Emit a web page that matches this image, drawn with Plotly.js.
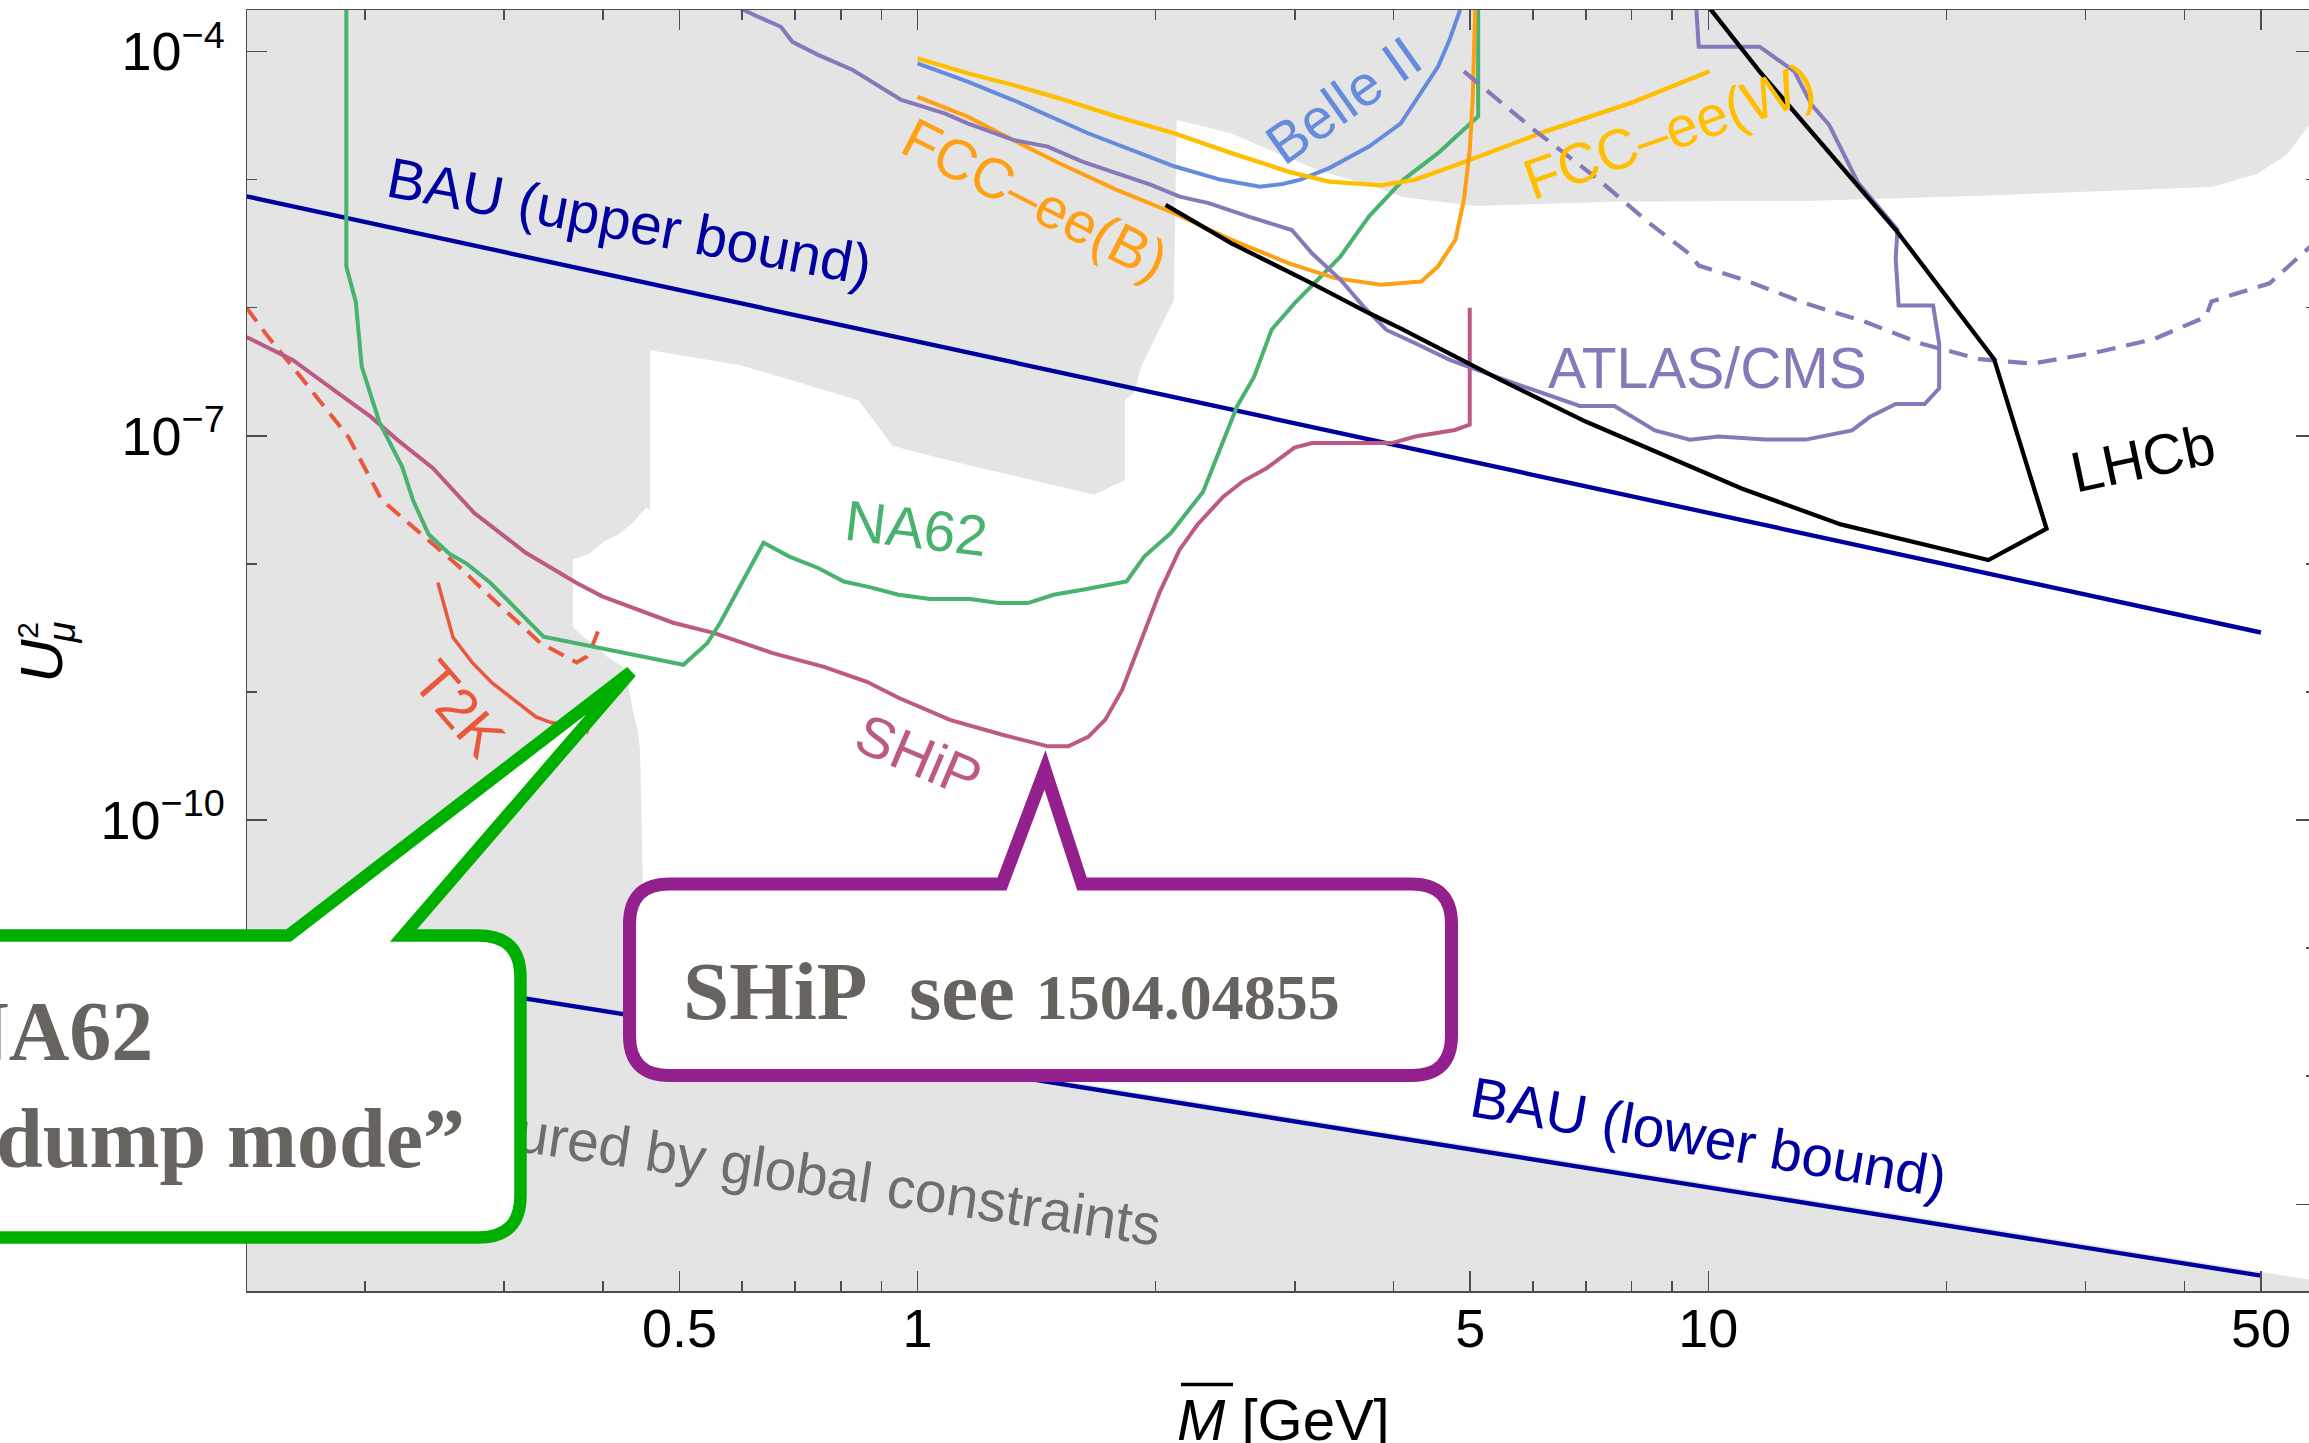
<!DOCTYPE html>
<html><head><meta charset="utf-8">
<script src="https://cdn.plot.ly/plotly-3.0.1.min.js"></script>
<style>html,body{margin:0;padding:0;overflow:hidden;background:#fff}#chart{width:2316px;height:1443px}</style>
</head><body><div id="chart"></div>
<script>
// ---------- axis ticks ----------
const xMajor = [0.5, 1, 5, 10, 50];
const xMajorText = ['0.5', '1', '5', '10', '50'];
const xMinor = [0.2, 0.3, 0.4, 0.6, 0.7, 0.8, 0.9, 2, 3, 4, 6, 7, 8, 9, 20, 30, 40];
const yMajor = [1e-13, 1e-10, 1e-7, 1e-4];
const yMajorText = ['10<sup>−13</sup>', '10<sup>−10</sup>', '10<sup>−7</sup>', '10<sup>−4</sup>'];
const yMinor = [1e-12, 1e-11, 1e-9, 1e-8, 1e-6, 1e-5];

// ---------- region allowed by global constraints (white hole in grey) ----------
const allowedM = [0.459, 0.597, 0.842, 0.930, 1.080, 1.673, 1.830, 1.830, 1.878, 1.919, 2.012, 2.109, 2.127, 2.493, 2.716, 3.210, 3.795, 4.117, 5.080, 7.731, 13.28, 22.11, 43.35, 49.5, 53.93, 57.5, 70, 70, 0.452, 0.4494, 0.4457, 0.4426, 0.4370, 0.4329, 0.4288, 0.4241, 0.4046, 0.3927, 0.3778, 0.3666, 0.3666, 0.3844, 0.4012, 0.4188, 0.437, 0.4534, 0.459, 0.459];
const allowedU = [4.65e-7, 3.56e-7, 1.89e-7, 8.32e-8, 6.55e-8, 3.47e-8, 4.52e-8, 1.89e-7, 2.15e-7, 3.47e-7, 6.38e-7, 1.14e-6, 2.92e-5, 2.30e-5, 1.82e-5, 1.19e-5, 8.77e-6, 7.28e-6, 6.21e-6, 6.73e-6, 6.81e-6, 7.48e-6, 8.77e-6, 1.11e-5, 1.57e-5, 2.66e-5, 2.66e-5, 2.13e-14, 3.07e-12, 3.21e-11, 3.56e-10, 5.02e-10, 6.90e-10, 9.25e-10, 1.31e-9, 1.57e-9, 1.89e-9, 2.27e-9, 2.69e-9, 3.21e-9, 1.08e-8, 1.20e-8, 1.49e-8, 1.70e-8, 2.10e-8, 2.74e-8, 2.66e-8, 4.65e-7];

// ---------- BAU bounds ----------
const bauM = [0.1, 50];
const bauUpperU = [1.18e-5, 2.91e-9];
const bauLowerU = [1.27e-11, 2.77e-14];

// ---------- experiments ----------
const na62M = [0.1895, 0.1895, 0.1948, 0.1982, 0.2087, 0.2229, 0.2302, 0.2408, 0.2557, 0.2693, 0.2884, 0.3365, 0.5058, 0.5417, 0.5629, 0.5927, 0.6387, 0.6886, 0.7486, 0.807, 0.872, 0.946, 1.037, 1.166, 1.266, 1.379, 1.486, 1.617, 1.838, 1.935, 2.091, 2.297, 2.414, 2.536, 2.664, 2.804, 2.997, 3.206, 3.423, 3.724, 4.117, 4.553, 5.117, 5.117];
const na62U = [3e-4, 2.10e-6, 1.11e-6, 3.47e-7, 1.27e-7, 5.74e-8, 3.12e-8, 1.70e-8, 1.20e-8, 1.0e-8, 7.09e-9, 2.70e-9, 1.63e-9, 2.39e-9, 3.47e-9, 6.28e-9, 1.46e-8, 1.14e-8, 9.29e-9, 7.28e-9, 6.55e-9, 5.74e-9, 5.32e-9, 5.32e-9, 4.94e-9, 4.94e-9, 5.74e-9, 6.28e-9, 7.28e-9, 1.14e-8, 1.74e-8, 3.66e-8, 7.76e-8, 1.70e-7, 2.88e-7, 6.73e-7, 1.08e-6, 1.65e-6, 2.49e-6, 5.16e-6, 1.0e-5, 1.61e-5, 3.12e-5, 3e-4];

const shipM = [0.1417, 0.1621, 0.1882, 0.2034, 0.2199, 0.2439, 0.2751, 0.3196, 0.3706, 0.3992, 0.4908, 0.5534, 0.6542, 0.7615, 0.863, 0.946, 1.099, 1.277, 1.462, 1.551, 1.644, 1.727, 1.815, 1.925, 2.025, 2.145, 2.259, 2.434, 2.579, 2.763, 2.997, 3.156, 3.978, 4.261, 4.783, 4.993, 4.993];
const shipU = [5.91e-7, 3.91e-7, 1.99e-7, 1.41e-7, 9.29e-8, 5.58e-8, 2.49e-8, 1.22e-8, 7.10e-9, 5.58e-9, 3.47e-9, 2.88e-9, 2.02e-9, 1.57e-9, 1.20e-9, 9.0e-10, 6.05e-10, 4.65e-10, 3.76e-10, 3.76e-10, 4.46e-10, 6.05e-10, 1.04e-9, 2.70e-9, 6.05e-9, 1.29e-8, 2.02e-8, 3.33e-8, 4.41e-8, 5.58e-8, 8.09e-8, 8.77e-8, 8.77e-8, 9.86e-8, 1.11e-7, 1.22e-7, 1.0e-6];

const t2kM = [0.2474, 0.2586, 0.2733, 0.290, 0.3292, 0.3439, 0.3729, 0.3819, 0.386];
const t2kU = [7.15e-9, 2.66e-9, 1.70e-9, 1.17e-9, 6.38e-10, 5.77e-10, 5.37e-10, 4.90e-10, 6.05e-10];

const t2kDashM = [0.1417, 0.151, 0.1631, 0.1762, 0.1907, 0.2100, 0.2373, 0.2633, 0.2878, 0.3332, 0.3706, 0.3819, 0.3877, 0.3943];
const t2kDashU = [1.0e-6, 5.89e-7, 3.29e-7, 1.79e-7, 9.75e-8, 3.16e-8, 1.64e-8, 9.48e-9, 5.58e-9, 2.42e-9, 1.70e-9, 1.89e-9, 2.27e-9, 2.96e-9];

const belleM = [1.0, 1.157, 1.321, 1.511, 1.643, 1.910, 2.111, 2.414, 2.711, 2.896, 3.050, 3.316, 3.724, 4.085, 4.334, 4.553, 4.710, 4.853, 4.904];
const belleU = [8.09e-5, 5.81e-5, 4.18e-5, 2.92e-5, 2.30e-5, 1.61e-5, 1.27e-5, 1.0e-5, 8.81e-6, 9.25e-6, 1.0e-5, 1.23e-5, 1.81e-5, 2.75e-5, 4.72e-5, 7.62e-5, 1.24e-4, 2.11e-4, 2.52e-4];

const fccWM = [1.0, 1.157, 1.321, 1.511, 1.786, 2.111, 2.495, 2.950, 3.316, 3.853, 4.261, 4.866, 6.214, 8.004, 10.04];
const fccWU = [8.85e-5, 6.76e-5, 5.48e-5, 4.31e-5, 3.10e-5, 2.30e-5, 1.61e-5, 1.15e-5, 9.64e-6, 9.0e-6, 1.0e-5, 1.34e-5, 2.37e-5, 3.99e-5, 7.0e-5];

const fccBM = [1.0, 1.157, 1.321, 1.511, 1.786, 2.111, 2.495, 2.950, 3.373, 3.853, 4.334, 4.553, 4.788, 4.909, 4.993, 5.036, 5.080];
const fccBU = [4.43e-5, 3.10e-5, 2.04e-5, 1.34e-5, 8.32e-6, 5.46e-6, 3.38e-6, 2.22e-6, 1.70e-6, 1.51e-6, 1.60e-6, 2.10e-6, 3.38e-6, 6.93e-6, 1.70e-5, 4.19e-5, 3e-4];

const atlasM = [0.585, 0.5975, 0.628, 0.6717, 0.6946, 0.7486, 0.828, 0.954, 1.082, 1.157, 1.321, 1.461, 1.616, 1.786, 1.974, 2.146, 2.334, 2.624, 2.974, 3.154, 3.428, 3.665, 3.918, 4.261, 4.710, 5.712, 6.878, 7.61, 8.56, 9.48, 10.31, 11.80, 13.28, 15.20, 16.00, 17.26, 18.78, 19.59, 19.59, 19.25, 17.41, 17.26, 17.35, 15.47, 14.96, 14.22, 13.51, 12.85, 11.61, 9.726, 9.643];
const atlasU = [2.52e-4, 2.17e-4, 1.87e-4, 1.56e-4, 1.19e-4, 9.41e-5, 7.18e-5, 4.19e-5, 3.29e-5, 2.75e-5, 2.04e-5, 1.81e-5, 1.38e-5, 1.12e-5, 9.10e-6, 7.36e-6, 6.55e-6, 5.13e-6, 4.04e-6, 2.66e-6, 1.65e-6, 1.02e-6, 6.70e-7, 5.28e-7, 3.91e-7, 2.54e-7, 1.71e-7, 1.71e-7, 1.10e-7, 9.33e-8, 9.86e-8, 9.33e-8, 9.33e-8, 1.10e-7, 1.40e-7, 1.77e-7, 1.77e-7, 2.35e-7, 5.23e-7, 1.04e-6, 1.04e-6, 2.41e-6, 4.06e-6, 9.42e-6, 1.41e-5, 2.67e-5, 3.84e-5, 7.0e-5, 1.09e-4, 1.09e-4, 2.52e-4];

const atlasDashM = [4.909, 6.008, 7.234, 8.424, 9.48, 9.726, 11.22, 13.28, 15.73, 18.62, 22.05, 25.67, 30.90, 36.59, 42.58, 43.30, 51.28, 57.52, 60];
const atlasDashU = [7.0e-5, 2.47e-5, 1.02e-5, 4.57e-6, 2.61e-6, 2.13e-6, 1.61e-6, 1.08e-6, 7.82e-7, 5.23e-7, 3.96e-7, 3.66e-7, 4.46e-7, 5.68e-7, 8.47e-7, 1.12e-6, 1.55e-6, 2.94e-6, 3.5e-6];

const lhcbM = [2.059, 2.495, 3.152, 3.727, 4.076, 5.454, 6.997, 11.04, 14.71, 22.61, 26.78, 22.99, 17.26, 11.61, 10.06, 9.91];
const lhcbU = [6.34e-6, 3.18e-6, 1.55e-6, 9.04e-7, 6.93e-7, 2.74e-7, 1.29e-7, 3.86e-8, 2.03e-8, 1.07e-8, 1.88e-8, 3.96e-7, 4.06e-6, 7.0e-5, 2.15e-4, 2.52e-4];

// ---------- curve labels ----------
const labelText = ['BAU (upper bound)', 'FCC–ee(B)', 'Belle II', 'FCC–ee(W)', 'ATLAS/CMS', 'LHCb', 'NA62', 'SHiP', 'T2K', 'BAU (lower bound)'];
const labelM = [0.4325, 1.409, 3.453, 8.907, 9.97, 35.5, 0.997, 1.0056, 0.2636, 10.01];
const labelU = [4.76e-6, 7.03e-6, 4.21e-5, 2.41e-5, 3.38e-7, 6.73e-8, 1.92e-8, 3.17e-10, 7.40e-10, 3.36e-13];
const labelAngle = [10.5, 27, -35.4, -19.5, 0, -12, 6.8, 23, 49.2, 9.8];

// ---------- styles ----------
const C = {
  bau: '#0000a0', na62: '#48b26e', ship: '#bd5a83', t2k: '#eb573c', belle: '#658cdc',
  fccW: '#ffbe00', fccB: '#ffa014', atlas: '#8778b9', lhcb: '#000000', grey: '#e4e4e4'
};
const labelColor = [C.bau, C.fccB, C.belle, C.fccW, C.atlas, C.lhcb, C.na62, C.ship, C.t2k, C.bau];
const SANS = 'Liberation Sans, Arial, Helvetica, sans-serif';
const SERIF = 'Liberation Serif, Times New Roman, serif';
const AX = '#4d4d4d';

function line(x, y, color, width, dash) {
  return {type: 'scatter', mode: 'lines', x: x, y: y, hoverinfo: 'skip',
          line: {color: color, width: width, dash: dash || 'solid'}};
}

const traces = [
  {type: 'scatter', mode: 'lines', x: allowedM, y: allowedU, fill: 'toself', fillcolor: '#ffffff',
   line: {width: 0, color: 'rgba(0,0,0,0)'}, hoverinfo: 'skip'},
  line(bauM, bauUpperU, C.bau, 4.4),
  line(bauM, bauLowerU, C.bau, 4.4),
  line(t2kDashM, t2kDashU, C.t2k, 4, '17px,10px'),
  line(t2kM, t2kU, C.t2k, 3.5),
  line(shipM, shipU, C.ship, 4),
  line(na62M, na62U, C.na62, 4),
  line(belleM, belleU, C.belle, 4),
  line(fccWM, fccWU, C.fccW, 4.3),
  line(fccBM, fccBU, C.fccB, 4),
  line(atlasDashM, atlasDashU, C.atlas, 4.2, '19px,11px'),
  line(atlasM, atlasU, C.atlas, 4),
  line(lhcbM, lhcbU, C.lhcb, 4.3)
];

// ---------- geometry helpers (pixel -> paper) ----------
const W = 2316, H = 1443, L = 247, T = 10, B = 152;
const PW = W - L, PH = H - T - B;
const px = X => (X - L) / PW;
const py = Y => (H - B - Y) / PH;
const P = (X, Y) => px(X).toFixed(5) + ',' + py(Y).toFixed(5);

const shipPath = 'M ' + P(669.5, 884) + ' L ' + P(1002, 884) + ' L ' + P(1045, 770) + ' L ' + P(1082, 884) +
  ' L ' + P(1411.5, 884) + ' Q ' + P(1451.5, 884) + ' ' + P(1451.5, 924) + ' L ' + P(1451.5, 1035.5) +
  ' Q ' + P(1451.5, 1075.5) + ' ' + P(1411.5, 1075.5) + ' L ' + P(669.5, 1075.5) +
  ' Q ' + P(629.5, 1075.5) + ' ' + P(629.5, 1035.5) + ' L ' + P(629.5, 924) +
  ' Q ' + P(629.5, 884) + ' ' + P(669.5, 884) + ' Z';
const na62Path = 'M ' + P(-80, 935.5) + ' L ' + P(288.6, 935.5) + ' L ' + P(631, 672) + ' L ' + P(403.5, 935.5) +
  ' L ' + P(478.5, 935.5) + ' Q ' + P(520.5, 935.5) + ' ' + P(520.5, 977.5) + ' L ' + P(520.5, 1195.5) +
  ' Q ' + P(520.5, 1237.5) + ' ' + P(478.5, 1237.5) + ' L ' + P(-80, 1237.5) + ' Z';

const shapes = [
  {type: 'line', xref: 'paper', yref: 'paper', layer: 'above',
   x0: px(294.5), y0: py(1093), x1: px(1161), y1: py(1221),
   line: {color: 'rgba(0,0,0,0)', width: 1},
   label: {text: 'disfavoured by global constraints', textangle: 'auto', textposition: 'end', yanchor: 'middle',
           padding: 0, font: {family: SANS, size: 57, color: '#6e6e6e'}}},
  {type: 'path', xref: 'paper', yref: 'paper', layer: 'above', path: shipPath,
   fillcolor: '#ffffff', line: {color: '#94208e', width: 13}},
  {type: 'path', xref: 'paper', yref: 'paper', layer: 'above', path: na62Path,
   fillcolor: '#ffffff', line: {color: '#00b000', width: 12.5}},
  {type: 'line', xref: 'paper', yref: 'paper', layer: 'above',
   x0: px(1181), y0: py(1384.5), x1: px(1233), y1: py(1384.5), line: {color: '#000', width: 3.5}}
];

const annotations = [];
for (let i = 0; i < labelText.length; i++) {
  annotations.push({x: Math.log10(labelM[i]), y: Math.log10(labelU[i]), xref: 'x', yref: 'y',
    text: labelText[i], showarrow: false, textangle: labelAngle[i], xanchor: 'center', yanchor: 'middle',
    font: {family: SANS, size: 57, color: labelColor[i]}});
}
const TXT = '#67635f';
annotations.push(
  {xref: 'paper', yref: 'paper', x: px(681), y: py(991), xanchor: 'left', yanchor: 'middle', showarrow: false,
   text: '<b>SHiP\u00a0\u00a0see <span style="font-size:64px">1504.04855</span></b>',
   font: {family: SERIF, size: 83, color: TXT}},
  {xref: 'paper', yref: 'paper', x: px(155.4), y: py(1031.6), xanchor: 'right', yanchor: 'middle', showarrow: false,
   text: '<b>NA62</b>', font: {family: SERIF, size: 84, color: TXT}},
  {xref: 'paper', yref: 'paper', x: px(467), y: py(1138.6), xanchor: 'right', yanchor: 'middle', showarrow: false,
   text: '<b>“beam dump mode”</b>', font: {family: SERIF, size: 84, color: TXT}},
  // axis titles
  {xref: 'paper', yref: 'paper', x: px(1283), y: py(1420), xanchor: 'center', yanchor: 'middle', showarrow: false,
   text: '<i>M</i> [GeV]', font: {family: SANS, size: 58, color: '#000'}},
  {xref: 'paper', yref: 'paper', x: px(42), y: py(660.7), xanchor: 'center', yanchor: 'middle', showarrow: false,
   textangle: -90, text: '<i>U</i>', font: {family: SANS, size: 60, color: '#000'}},
  {xref: 'paper', yref: 'paper', x: px(61.7), y: py(632.7), xanchor: 'center', yanchor: 'middle', showarrow: false,
   textangle: -90, text: '<i>μ</i>', font: {family: SANS, size: 38, color: '#000'}},
  {xref: 'paper', yref: 'paper', x: px(26.7), y: py(630), xanchor: 'center', yanchor: 'middle', showarrow: false,
   textangle: -90, text: '2', font: {family: SANS, size: 30, color: '#000'}}
);

const axisCommon = {
  type: 'log', showgrid: false, zeroline: false, showline: true, linecolor: AX, linewidth: 1.5,
  mirror: 'ticks', ticks: 'inside', ticklen: 20, tickwidth: 1.5, tickcolor: AX,
  tickfont: {family: SANS, size: 54, color: '#000'}, tickmode: 'array'
};

const layout = {
  width: W, height: H, margin: {l: L, r: 0, t: T, b: B, pad: 0},
  paper_bgcolor: '#ffffff', plot_bgcolor: C.grey, showlegend: false, hovermode: false,
  xaxis: Object.assign({}, axisCommon, {range: [-0.848, 1.7686], tickvals: xMajor, ticktext: xMajorText,
    ticklabelstandoff: -10,
    minor: {tickmode: 'array', tickvals: xMinor, ticks: 'inside', ticklen: 10, tickwidth: 1.5, tickcolor: AX, showgrid: false}}),
  yaxis: Object.assign({}, axisCommon, {range: [-13.677, -3.676], tickvals: yMajor, ticktext: yMajorText,
    ticklabelstandoff: 10,
    minor: {tickmode: 'array', tickvals: yMinor, ticks: 'inside', ticklen: 10, tickwidth: 1.5, tickcolor: AX, showgrid: false}}),
  shapes: shapes,
  annotations: annotations
};

Plotly.newPlot('chart', traces, layout, {staticPlot: true, displayModeBar: false});
</script></body></html>
